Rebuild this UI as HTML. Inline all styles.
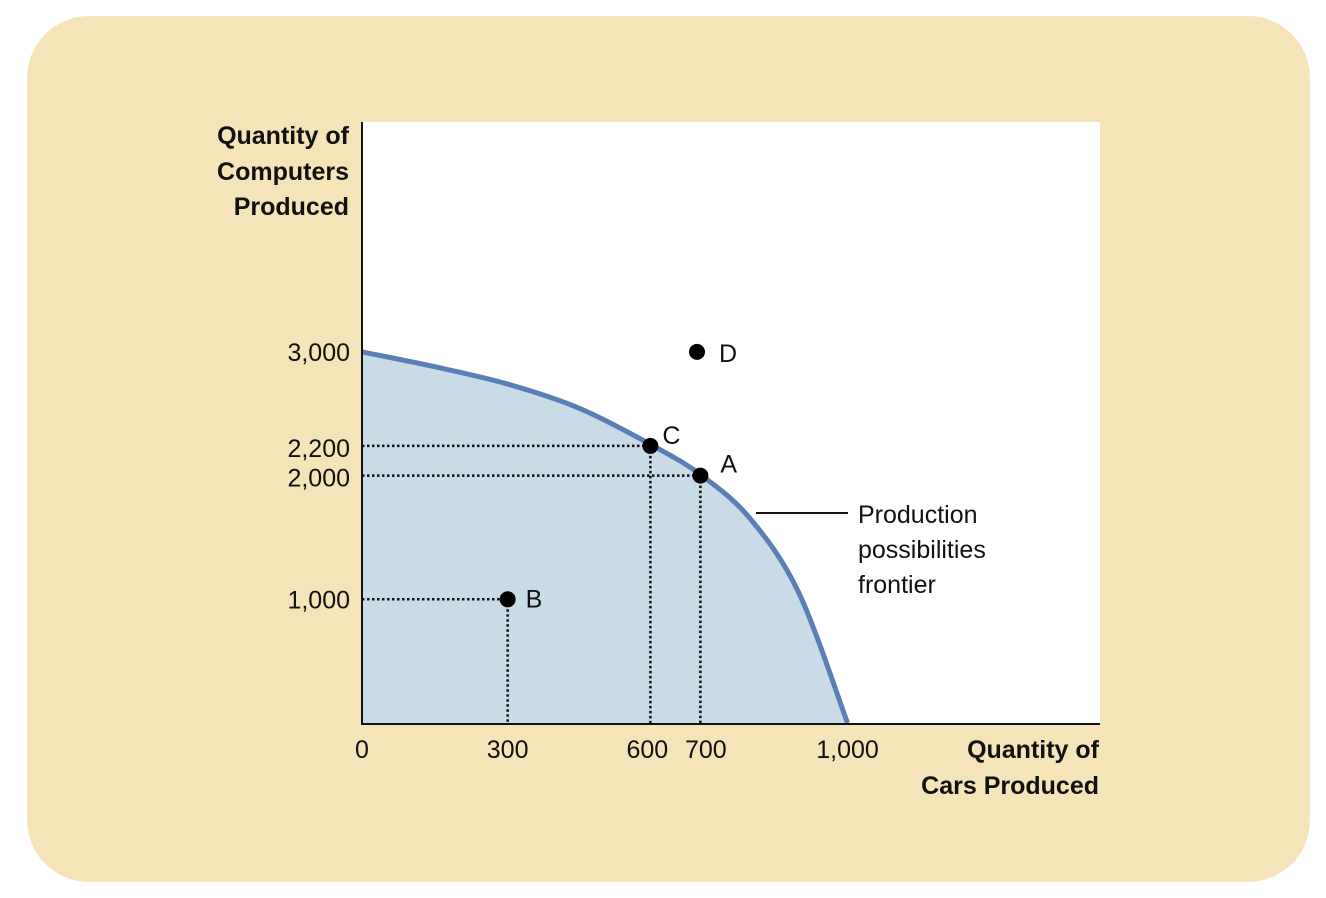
<!DOCTYPE html>
<html><head><meta charset="utf-8"><style>
html,body{margin:0;padding:0;background:#fff;}
svg{display:block;}
text{font-family:"Liberation Sans",sans-serif;}
.t{font-size:25px;fill:#111;}
.b{font-family:"Liberation Sans Narrow","Liberation Sans",sans-serif;font-weight:bold;font-size:25px;fill:#111;}
</style></head><body>
<svg id="chart" width="1326" height="898">
<rect x="27" y="16" width="1283" height="866" rx="62" fill="#f5e4b8"/>
<rect x="362" y="122" width="738" height="601" fill="#fff"/>
<g id="g"></g>
</svg>
<script>
const curveCars=[0,150,300,450,600,700,800,900,1000];
const curveComputers=[3000,2880,2740,2540,2240,2000,1650,1050,0];
const pointLabels=['A','B','C','D'];
const pointCars=[697,300,594,690];
const pointComputers=[2000,1000,2240,3000];
const xTicks=[0,300,600,700,1000];
const xTickLabels=['0','300','600','700','1,000'];
const yTicks=[1000,2000,2240,3000];
const yTickLabels=['1,000','2,000','2,200','3,000'];
const X=v=>362+v*0.4855, Y=v=>723-v*0.1237;
const NS='http://www.w3.org/2000/svg', g=document.getElementById('g');
function mk(t,a,p){const e=document.createElementNS(NS,t);for(const k in a)e.setAttribute(k,a[k]);(p||g).appendChild(e);return e;}
const P=curveCars.map((c,i)=>[X(c),Y(curveComputers[i])]);
let d='M'+P[0][0]+','+P[0][1];
for(let i=0;i<P.length-1;i++){const p0=P[i-1]||P[i],p1=P[i],p2=P[i+1],p3=P[i+2]||p2;
d+=` C${p1[0]+(p2[0]-p0[0])/6},${p1[1]+(p2[1]-p0[1])/6} ${p2[0]-(p3[0]-p1[0])/6},${p2[1]-(p3[1]-p1[1])/6} ${p2[0]},${p2[1]}`;}
let e=mk('path',{d:d+` L${X(0)},${Y(0)} Z`,fill:'#c9dbe7'});


for(let i=0;i<pointLabels.length;i++){if(pointLabels[i]==='D')continue;
const px=X(pointCars[i]),py=Y(pointComputers[i]);
e=mk('path',{d:`M${X(0)},${py} H${px} M${px},${py} V${Y(0)}`,stroke:'#111','stroke-width':2.5,'stroke-dasharray':'2.5 2.5',fill:'none'});

}
e=mk('path',{d:d,stroke:'#5a7fb5','stroke-width':5,fill:'none'});


e=mk('path',{d:`M362,122 V724 H1100`,stroke:'#111','stroke-width':2,fill:'none'});


const off={A:[20,-3],B:[18,8],C:[12,-2],D:[22,10]};
for(let i=0;i<pointLabels.length;i++){const px=X(pointCars[i]),py=Y(pointComputers[i]);
e=mk('circle',{cx:px,cy:py,r:8,fill:'#000'});


e=mk('text',{x:px+off[pointLabels[i]][0],y:py+off[pointLabels[i]][1],class:'t'});e.textContent=pointLabels[i];

}
xTicks.forEach((v,i)=>{e=mk('text',{x:X(v)+(v===600?-6:v===700?4:0),y:758,class:'t','text-anchor':'middle'});e.textContent=xTickLabels[i];

});
yTicks.forEach((v,i)=>{e=mk('text',{x:350,y:Y(v)+9+(v===2240?2:v===2000?2:0),class:'t','text-anchor':'end'});e.textContent=yTickLabels[i];

});
[['Quantity of',144],['Computers',180],['Produced',215]].forEach(a=>{e=mk('text',{x:349,y:a[1],class:'b','text-anchor':'end'});e.textContent=a[0];

});
[['Quantity of',758],['Cars Produced',794]].forEach(a=>{e=mk('text',{x:1099,y:a[1],class:'b','text-anchor':'end'});e.textContent=a[0];

});
e=mk('line',{x1:756,y1:513,x2:848,y2:513,stroke:'#111','stroke-width':2});


[['Production',523],['possibilities',558],['frontier',593]].forEach(a=>{e=mk('text',{x:858,y:a[1],class:'t'});e.textContent=a[0];

});
</script>
</body></html>
